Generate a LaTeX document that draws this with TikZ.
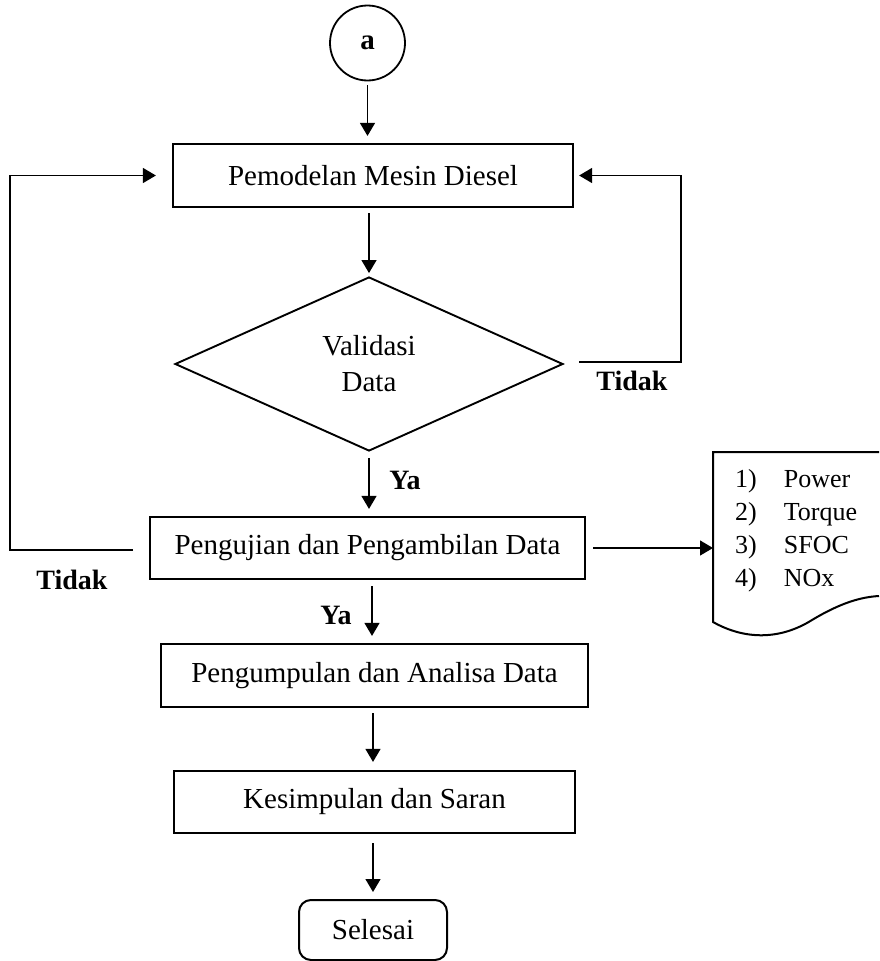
\documentclass[tikz,border=0pt]{standalone}
\usepackage{fontspec}
\setmainfont{Liberation Serif}
\usetikzlibrary{shapes.geometric,arrows.meta}
\begin{document}
\begin{tikzpicture}[x=1pt,y=-1pt,
  mainfont/.style={font=\fontsize{29}{36}\selectfont},
  procbox/.style={draw,line width=2.2pt,rectangle,inner sep=0pt,mainfont},
  decbox/.style={draw,line width=1.9pt,diamond,aspect=2.23,inner sep=0pt,
    minimum width=388pt,minimum height=174pt,align=center,mainfont},
  termbox/.style={draw,line width=2pt,rectangle,rounded corners=12pt,inner sep=0pt,mainfont},
  conn/.style={line width=1.3pt,-{Triangle[length=13pt,width=15pt]}},
  lbl/.style={font=\fontsize{28}{34}\selectfont\bfseries,inner sep=0pt},
]
\useasboundingbox (0,0) rectangle (879,961);

\node[draw,circle,line width=1.8pt,minimum size=75pt,inner sep=0pt,
      font=\fontsize{29}{34}\selectfont\bfseries] (start) at (367.5,43) {a};
\node[procbox,minimum width=400pt,minimum height=63pt] (model) at (373,175.5) {Pemodelan Mesin Diesel};
\node[decbox] (valid) at (369,364) {Validasi\\Data};
\node[procbox,minimum width=435pt,minimum height=62pt] (uji) at (367.5,548) {Pengujian dan Pengambilan Data};
\node[procbox,minimum width=427pt,minimum height=63pt] (kumpul) at (374.5,675.5) {Pengumpulan dan Analisa Data};
\node[procbox,minimum width=401pt,minimum height=62pt] (simpul) at (374.5,802) {Kesimpulan dan Saran};
\node[termbox,minimum width=148pt,minimum height=60pt] (end) at (373,930) {Selesai};

% document shape
\coordinate (docL) at (713,548);
\draw[line width=2pt] (879,452) -- (713,452) -- (713,622)
  .. controls (745,640) and (780,640) .. (812,620)
  .. controls (842,602) and (862,597) .. (879,596);
\node[anchor=base west,inner sep=0pt,font=\fontsize{26}{33}\selectfont] (doclist) at (735,487)
  {\begin{tabular}[t]{@{}l@{\hspace{27pt}}l@{}}1) & Power\\ 2) & Torque\\ 3) & SFOC\\ 4) & NOx\end{tabular}};

% connectors
\draw[conn,shorten <=4pt,shorten >=7pt] (start) -- (start |- model.north);
\draw[conn,shorten <=5pt,shorten >=3pt] (model.south -| valid.north) -- (valid.north);
\draw[conn,shorten <=6pt,shorten >=7pt] (valid.south) -- (uji.north -| valid.south);
\draw[conn,shorten <=6pt,shorten >=7pt] (uji.south -| 372,0) -- (kumpul.north -| 372,0);
\draw[conn,shorten <=5pt,shorten >=8pt] (kumpul.south -| 373,0) -- (simpul.north -| 373,0);
\draw[conn,shorten <=9pt,shorten >=7pt] (simpul.south -| 373,0) -- (end.north -| 373,0);

\coordinate (rstart) at (579,362);
\coordinate (rcorner) at (681,362);
\draw[conn,shorten >=5pt] (rstart) -- (rcorner) |- (model.east);
\coordinate (lstart) at (133,550);
\coordinate (lcorner) at (10,550);
\draw[conn,shorten >=16pt] (lstart) -- (lcorner) |- (model.west);
\draw[conn,shorten <=7pt] (uji.east) -- (docL);

% labels
\node[lbl] (tidakR) at (632,381) {Tidak};
\node[lbl] (tidakL) at (72,580) {Tidak};
\node[lbl] (ya1) at (405,480) {Ya};
\node[lbl] (ya2) at (336,615) {Ya};
\end{tikzpicture}
\end{document}
